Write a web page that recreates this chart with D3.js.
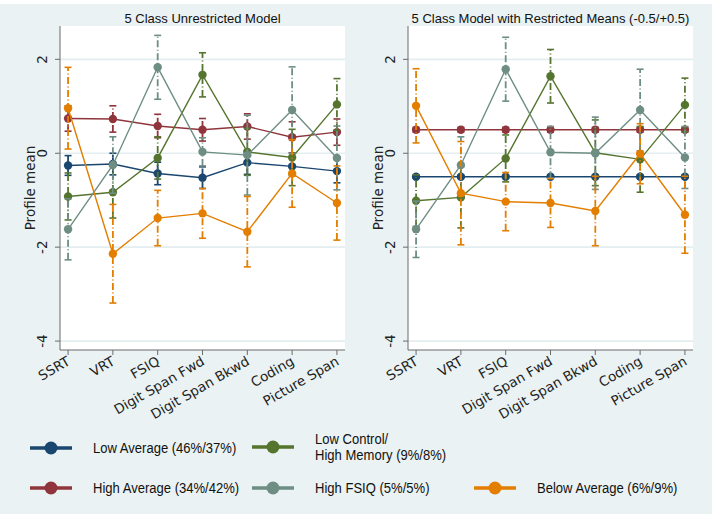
<!DOCTYPE html>
<html>
<head>
<meta charset="utf-8">
<script src="https://cdn.jsdelivr.net/npm/d3@7"></script>
<style>
  html, body { margin: 0; padding: 0; background: #fff; }
  svg { display: block; }
</style>
</head>
<body>
<svg id="chart" width="712" height="514"></svg>
<script>
// ── Data ─────────────────────────────────────────────────────────────────────
const categories = ["SSRT", "VRT", "FSIQ", "Digit Span Fwd", "Digit Span Bkwd", "Coding", "Picture Span"];
const yTicks = [2, 0, -2, -4];

// Unrestricted model: means and CI half-widths
const lowAvgU    = [-0.26, -0.23, -0.43, -0.52, -0.20, -0.28, -0.38];
const lowAvgUErr = [0.21, 0.23, 0.24, 0.23, 0.25, 0.20, 0.25];
const highAvgU    = [0.74, 0.73, 0.58, 0.50, 0.57, 0.34, 0.45];
const highAvgUErr = [0.27, 0.28, 0.25, 0.24, 0.27, 0.33, 0.28];
const lowCtrlU    = [-0.92, -0.83, -0.10, 1.67, 0.03, -0.09, 1.04];
const lowCtrlUErr = [0.50, 0.55, 0.45, 0.47, 0.50, 0.60, 0.55];
const highFsiqU    = [-1.62, -0.25, 1.83, 0.03, -0.04, 0.92, -0.10];
const highFsiqUErr = [0.65, 0.60, 0.68, 0.30, 0.85, 0.92, 0.68];
const belowAvgU    = [0.96, -2.14, -1.38, -1.28, -1.67, -0.43, -1.06];
const belowAvgUErr = [0.87, 1.05, 0.59, 0.53, 0.75, 0.72, 0.79];

// Restricted means model
const lowAvgR    = [-0.5, -0.5, -0.5, -0.5, -0.5, -0.5, -0.5];
const lowAvgRErr = [0.03, 0.03, 0.03, 0.03, 0.03, 0.03, 0.03];
const highAvgR    = [0.5, 0.5, 0.5, 0.5, 0.5, 0.5, 0.5];
const highAvgRErr = [0.05, 0.05, 0.05, 0.05, 0.05, 0.05, 0.05];
const lowCtrlR    = [-1.01, -0.94, -0.11, 1.64, 0.01, -0.13, 1.03];
const lowCtrlRErr = [0.55, 0.65, 0.50, 0.57, 0.70, 0.70, 0.57];
const highFsiqR    = [-1.62, -0.25, 1.79, 0.02, 0.00, 0.92, -0.09];
const highFsiqRErr = [0.60, 0.60, 0.68, 0.55, 0.77, 0.87, 0.66];
const belowAvgR    = [1.01, -0.85, -1.03, -1.06, -1.23, -0.01, -1.31];
const belowAvgRErr = [0.79, 1.10, 0.62, 0.52, 0.74, 0.64, 0.82];

const classNames = ["Low Average (46%/37%)", "High Average (34%/42%)",
                    "Low Control/\nHigh Memory (9%/8%)", "High FSIQ (5%/5%)", "Below Average (6%/9%)"];
const classColors = ["#1a476f", "#90353b", "#55752f", "#6e8e84", "#e37e00"];

const panelTitles = ["5 Class Unrestricted Model", "5 Class Model with Restricted Means (-0.5/+0.5)"];

const panels = [
  { title: panelTitles[0],
    series: [[lowAvgU, lowAvgUErr], [highAvgU, highAvgUErr], [lowCtrlU, lowCtrlUErr],
             [highFsiqU, highFsiqUErr], [belowAvgU, belowAvgUErr]] },
  { title: panelTitles[1],
    series: [[lowAvgR, lowAvgRErr], [highAvgR, highAvgRErr], [lowCtrlR, lowCtrlRErr],
             [highFsiqR, highFsiqRErr], [belowAvgR, belowAvgRErr]] },
];

// ── Layout ───────────────────────────────────────────────────────────────────
const BG = "#eaf2f3";
const TICK_FONT = "'DejaVu Sans', Verdana, sans-serif";
const TITLE_FONT = "'Liberation Sans', Arial, sans-serif";
const plotTop = 26, plotBottom = 350;
const panelX = [[60, 345], [408, 693]];

const svg = d3.select("#chart");
svg.append("rect").attr("x", 0).attr("y", 4).attr("width", 712).attr("height", 510).attr("fill", BG);

const y = d3.scaleLinear().domain([-4.19, 2.71]).range([plotBottom, plotTop]);

panels.forEach((p, pi) => {
  const [x0, x1] = panelX[pi];
  const x = d3.scalePoint().domain(categories).range([x0, x1]).padding(0.18);
  const g = svg.append("g");

  // plot region
  g.append("rect").attr("x", x0).attr("y", plotTop)
    .attr("width", x1 - x0).attr("height", plotBottom - plotTop).attr("fill", "#fff");

  // grid
  g.selectAll("line.grid").data(yTicks).enter().append("line")
    .attr("x1", x0).attr("x2", x1)
    .attr("y1", d => y(d)).attr("y2", d => y(d))
    .attr("stroke", "#e4eef0").attr("stroke-width", 1.6);

  // y axis
  g.append("line").attr("x1", x0).attr("x2", x0).attr("y1", plotTop).attr("y2", plotBottom)
    .attr("stroke", "#6b6b6b").attr("stroke-width", 1);
  g.selectAll("line.yt").data(yTicks).enter().append("line")
    .attr("x1", x0 - 5).attr("x2", x0).attr("y1", d => y(d)).attr("y2", d => y(d))
    .attr("stroke", "#6b6b6b");
  g.selectAll("text.yt").data(yTicks).enter().append("text")
    .attr("transform", d => `translate(${x0 - 13},${y(d)}) rotate(-90)`)
    .attr("text-anchor", "middle")
    .attr("font-family", TICK_FONT).attr("font-size", 13.5).attr("fill", "#222")
    .text(d => d);
  g.append("text")
    .attr("transform", `translate(${x0 - 25},${(plotTop + plotBottom) / 2}) rotate(-90)`)
    .attr("text-anchor", "middle")
    .attr("font-family", TICK_FONT).attr("font-size", 13.5).attr("fill", "#222")
    .text("Profile mean");

  // x axis
  g.append("line").attr("x1", x0).attr("x2", x1).attr("y1", plotBottom).attr("y2", plotBottom)
    .attr("stroke", "#6b6b6b").attr("stroke-width", 1);
  g.selectAll("line.xt").data(categories).enter().append("line")
    .attr("x1", d => x(d)).attr("x2", d => x(d)).attr("y1", plotBottom).attr("y2", plotBottom + 5)
    .attr("stroke", "#6b6b6b");
  g.selectAll("text.xt").data(categories).enter().append("text")
    .attr("transform", d => `translate(${x(d) + 3},${plotBottom + 14}) rotate(-30)`)
    .attr("text-anchor", "end")
    .attr("font-family", TICK_FONT).attr("font-size", 13.5).attr("fill", "#222")
    .text(d => d);

  // title
  g.append("text").attr("x", (x0 + x1) / 2).attr("y", 23)
    .attr("text-anchor", "middle")
    .attr("font-family", TITLE_FONT).attr("font-size", 13).attr("fill", "#111")
    .text(p.title);

  // series
  p.series.forEach(([vals, errs], si) => {
    const col = classColors[si];
    const pts = categories.map((c, i) => ({ c, v: vals[i], e: errs[i] }));
    const sg = g.append("g");

    // error bars (dash-dot) with caps
    sg.selectAll("line.eb").data(pts).enter().append("line")
      .attr("x1", d => x(d.c)).attr("x2", d => x(d.c))
      .attr("y1", d => y(d.v - d.e)).attr("y2", d => y(d.v + d.e))
      .attr("stroke", col).attr("stroke-width", 1.8)
      .attr("stroke-dasharray", "7,2.5,1,2.5");
    [-1, 1].forEach(sgn => {
      sg.selectAll(null).data(pts).enter().append("line")
        .attr("x1", d => x(d.c) - 3.5).attr("x2", d => x(d.c) + 3.5)
        .attr("y1", d => y(d.v + sgn * d.e)).attr("y2", d => y(d.v + sgn * d.e))
        .attr("stroke", col).attr("stroke-width", 1.6);
    });

    sg.append("path").datum(pts)
      .attr("d", d3.line().x(d => x(d.c)).y(d => y(d.v)))
      .attr("fill", "none").attr("stroke", col).attr("stroke-width", 1.4);

    sg.selectAll("circle").data(pts).enter().append("circle")
      .attr("cx", d => x(d.c)).attr("cy", d => y(d.v)).attr("r", 4.2)
      .attr("fill", col);
  });
});

// ── Legend ───────────────────────────────────────────────────────────────────
const legendPos = [[30, 448], [30, 488], [252, 447], [252, 488], [474, 488]];
const lg = svg.append("g");
classNames.forEach((name, i) => {
  const [lx, ly] = legendPos[i];
  const col = classColors[i];
  lg.append("line").attr("x1", lx).attr("x2", lx + 42).attr("y1", ly).attr("y2", ly)
    .attr("stroke", col).attr("stroke-width", 3.4);
  lg.append("circle").attr("cx", lx + 21).attr("cy", ly).attr("r", 6.5).attr("fill", col);
  const lines = name.split("\n");
  // condensed look: squeeze the text horizontally
  const t = lg.append("text")
    .attr("transform", `translate(${lx + 63},0) scale(0.87,1)`)
    .attr("font-family", TITLE_FONT)
    .attr("font-size", 15).attr("fill", "#111");
  lines.forEach((ln, k) => {
    t.append("tspan").attr("x", 0)
      .attr("y", ly + 5 + (k - (lines.length - 1) / 2) * 16)
      .text(ln);
  });
});
</script>
</body>
</html>
